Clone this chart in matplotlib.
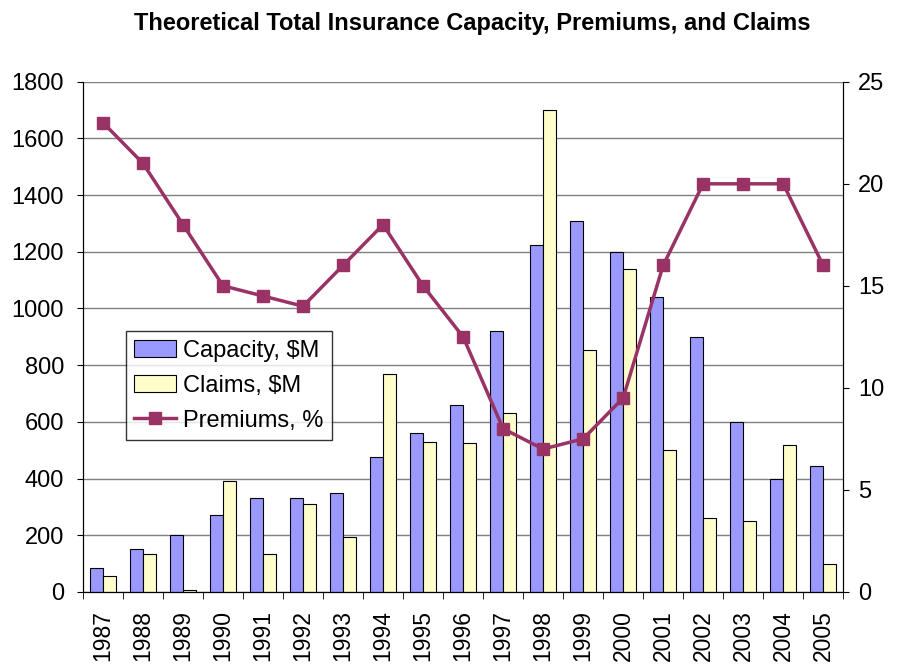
import matplotlib.pyplot as plt
import numpy as np

plt.rcParams['font.family'] = ['Liberation Sans', 'DejaVu Sans']

years = ['1987', '1988', '1989', '1990', '1991', '1992', '1993', '1994', '1995', '1996',
         '1997', '1998', '1999', '2000', '2001', '2002', '2003', '2004', '2005']
capacity = [85, 150, 200, 270, 330, 330, 350, 475, 560, 660,
            920, 1225, 1310, 1200, 1040, 900, 600, 400, 445]
claims = [55, 135, 5, 390, 135, 310, 195, 770, 530, 525,
          630, 1700, 855, 1140, 500, 260, 250, 520, 100]
premiums = [23, 21, 18, 15, 14.5, 14, 16, 18, 15, 12.5,
            8, 7, 7.5, 9.5, 16, 20, 20, 20, 16]

x = np.arange(len(years))
w = 0.32

fig = plt.figure(figsize=(8.97, 6.65), dpi=100)
ax = fig.add_axes([0.0925, 0.11, 0.8475, 0.767])
ax2 = ax.twinx()

ax.bar(x - w / 2, capacity, w, color='#9999FF', edgecolor='black', linewidth=0.8,
       label='Capacity, $M', zorder=2)
ax.bar(x + w / 2, claims, w, color='#FFFFCC', edgecolor='black', linewidth=0.8,
       label='Claims, $M', zorder=2)
ax2.plot(x, premiums, color='#993366', lw=2.5, marker='s', ms=8,
         label='Premiums, %')

ax.set_xlim(-0.5, len(years) - 0.5)
ax.set_ylim(0, 1800)
ax.set_yticks(range(0, 1801, 200))
ax2.set_ylim(0, 25)
ax2.set_yticks(range(0, 26, 5))
ax.yaxis.grid(True, color='#808080', lw=1, zorder=0)
ax.set_axisbelow(True)

ax.set_xticks(x)
ax.set_xticklabels(years, rotation=90, fontsize=16.5)
ax.set_xticks(np.arange(-0.5, len(years)), minor=True)
ax.tick_params(axis='x', which='major', length=0, pad=13)
ax.tick_params(axis='x', which='minor', length=5, direction='out')
ax.tick_params(axis='y', labelsize=17, length=4.5, pad=9, direction='out')
ax2.tick_params(axis='y', labelsize=17, length=4.5, pad=6, direction='out')

ax.spines['top'].set_visible(False)
ax2.spines['top'].set_visible(False)
for s in ['left', 'bottom']:
    ax.spines[s].set_color('black')
ax2.spines['right'].set_color('black')

h1, l1 = ax.get_legend_handles_labels()
h2, l2 = ax2.get_legend_handles_labels()
leg = ax2.legend(h1 + h2, l1 + l2, loc='lower left', bbox_to_anchor=(0.056, 0.298),
                 fontsize=17, frameon=True, fancybox=False, edgecolor='black',
                 borderpad=0.35, labelspacing=0.55, handlelength=1.8, handletextpad=0.3,
                 borderaxespad=0)
leg.get_frame().set_linewidth(1)

fig.text(0.527, 0.965, 'Theoretical Total Insurance Capacity, Premiums, and Claims',
         fontsize=17, fontweight='bold', ha='center', va='center')

fig.savefig('out.png', dpi=100)
